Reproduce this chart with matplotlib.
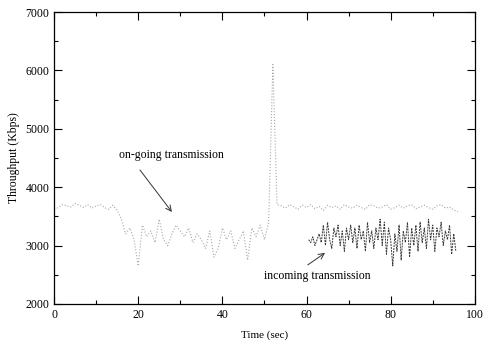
import numpy as np
import matplotlib
matplotlib.use("Agg")
from matplotlib import pyplot as plt

# on-going transmission, one sample per second (t = 0..96)
ongoing_t = np.arange(0, 97)
ongoing = [3620, 3650, 3700, 3680, 3660, 3720, 3690, 3650, 3700, 3640,
           3680, 3700, 3650, 3620, 3690, 3600, 3450, 3200, 3300, 3100,
           2650, 3350, 3150, 3250, 3050, 3450, 3100, 3000, 3200, 3350,
           3250, 3150, 3300, 3050, 3200, 3100, 2950, 3250, 2800, 2950,
           3300, 3100, 3250, 2950, 3100, 3250, 2750, 3300, 3150, 3350,
           3100, 3400, 6100, 3700, 3680, 3640, 3700, 3660, 3620, 3690,
           3650, 3700, 3630, 3670, 3600, 3690, 3650, 3680, 3620, 3700,
           3660, 3640, 3690, 3650, 3620, 3700, 3680, 3640, 3660, 3700,
           3620, 3650, 3690, 3640, 3680, 3700, 3630, 3660, 3690, 3650,
           3620, 3680, 3700, 3640, 3660, 3610, 3580]

# incoming transmission, every half second from 60.5 to 95.5
incoming_t = np.arange(60.5, 96.0, 0.5)
incoming = [3100, 3050, 3150, 3000, 3100, 3200, 3050, 3350, 3000, 3400,
            3100, 2950, 3300, 3150, 3350, 3000, 3250, 2900, 3300, 3100,
            3350, 3050, 3300, 2950, 3350, 3100, 3250, 2900, 3400, 3050,
            3250, 2950, 3300, 3100, 3450, 3000, 3400, 2850, 3300, 3100,
            2650, 3200, 2900, 3350, 2750, 3250, 3050, 3400, 2800, 3300,
            3000, 3350, 2900, 3400, 3050, 3300, 2950, 3450, 3100, 3350,
            2900, 3300, 3150, 3400, 3000, 3250, 3100, 3350, 2850, 3200,
            2900]

plt.rcParams['font.family'] = ['Liberation Serif', 'DejaVu Serif']
fig = plt.figure(figsize=(4.83, 3.43), dpi=100)
ax = fig.add_axes([0.112, 0.114, 0.871, 0.851])

ax.plot(ongoing_t, ongoing, ls=':', lw=0.8, color='#a8a8a8')
ax.plot(incoming_t[:len(incoming)], incoming, ls='--', lw=0.7, color='#3a3a3a',
        dashes=(2, 1))

ax.set_xlim(0, 100)
ax.set_ylim(2000, 7000)
ax.set_xticks([0, 20, 40, 60, 80, 100])
ax.set_xticks(np.arange(0, 101, 10), minor=True)
ax.set_yticks(np.arange(2000, 7001, 1000))
ax.set_yticks(np.arange(2000, 7001, 500), minor=True)
ax.tick_params(direction='in', top=True, right=True, which='both', labelsize=8.5,
               width=0.8)
ax.tick_params(which='major', length=6)
ax.tick_params(which='minor', length=3)
for s in ax.spines.values():
    s.set_linewidth(0.9)

ax.set_xlabel('Time (sec)', fontsize=8, labelpad=7)
ax.set_ylabel('Throughput (Kbps)', fontsize=8.5, labelpad=4)

ax.text(27.8, 4551, 'on-going transmission', ha='center', va='center',
        fontsize=8.5)
ax.annotate('', xy=(28, 3575), xytext=(20.4, 4295),
            arrowprops=dict(arrowstyle='->', lw=0.7, color='#333333',
                            shrinkA=0, shrinkB=0))
ax.text(62.6, 2480, 'incoming transmission', ha='center', va='center',
        fontsize=8.5)
ax.annotate('', xy=(64.4, 2873), xytext=(60.3, 2668),
            arrowprops=dict(arrowstyle='->', lw=0.7, color='#333333',
                            shrinkA=0, shrinkB=0))

fig.savefig('out.png', dpi=100)
